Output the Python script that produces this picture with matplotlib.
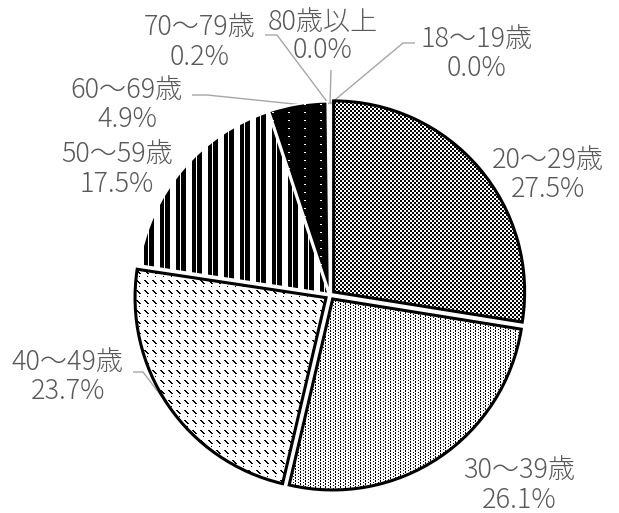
import numpy as np
import matplotlib
matplotlib.use("Agg")
import matplotlib.pyplot as plt

plt.rcParams['font.family'] = ['Noto Sans CJK JP', 'DejaVu Sans']

# data (clockwise from the top)
age_groups = ["18～19歳", "20～29歳", "30～39歳", "40～49歳",
              "50～59歳", "60～69歳", "70～79歳", "80歳以上"]
shares = [0.0, 27.5, 26.1, 23.7, 17.5, 4.9, 0.2, 0.0]

W, H = 619, 513
CX, CY, R = 330, 295, 191  # pie centre / radius in pixels
TEXT = "#595959"
LEAD = "#a6a6a6"

fig = plt.figure(figsize=(W / 100, H / 100), dpi=100)
ax = fig.add_axes([0, 0, 1, 1])


def px(x, y):  # pixel coords (top-left origin) -> data coords
    return (x - CX) / R, (CY - y) / R


explode = [0, 0.025, 0.025, 0.025, 0.012, 0.012, 0, 0]
wedges, _ = ax.pie(shares, startangle=90, counterclock=False,
                   explode=explode, radius=1)

# fill textures, one pixel per figure pixel
yy, xx = np.mgrid[0:H, 0:W]
diag = yy % 10
patterns = {
    1: (xx // 2 + yy // 2) % 2 == 0,
    2: ((xx % 5 == 0) & (yy % 3 != 2)) | ((xx % 5 == 3) & ((yy + 1) % 3 == 0)),
    3: ((diag < 4) & ((xx - diag) % 8 < 2)) | ((diag == 6) & (xx % 8 == 3)),
    4: ~((xx % 16 == 4) | (xx % 16 >= 10)),
    5: ~((xx % 16 < 2) & (yy % 8 == 0)),
}
x0, y1 = px(0, 0)
x1, y0 = px(W, H)
for i, mask in patterns.items():
    im = ax.imshow(np.where(mask, 0.0, 1.0), cmap="gray", vmin=0, vmax=1,
                   extent=(x0, x1, y0, y1), interpolation="nearest", zorder=1)
    im.set_clip_path(wedges[i])

for i, w in enumerate(wedges):
    w.set_facecolor("none")
    w.set_zorder(3)
    if i in (1, 2, 3):
        w.set_edgecolor("black")
        w.set_linewidth(2.2)
    elif i in (4, 5):
        w.set_edgecolor("white")
        w.set_linewidth(1.2)
    else:
        w.set_linewidth(0)

# leader lines: bend points in pixels
leaders = {
    0: [(403, 43), (415, 43)],
    7: [(331, 70)],
    6: [(277, 35), (265, 35)],
    5: [(207, 95), (192, 95)],
    3: [(143, 372), (133, 372)],
}
for i, pts in leaders.items():
    w = wedges[i]
    ang = np.deg2rad((w.theta1 + w.theta2) / 2)
    ax_, ay_ = w.center[0] + np.cos(ang), w.center[1] + np.sin(ang)
    xs = [ax_] + [px(*p)[0] for p in pts]
    ys = [ay_] + [px(*p)[1] for p in pts]
    ax.plot(xs, ys, color=LEAD, lw=1.0, zorder=2, solid_capstyle="butt")

# label positions: centre x, name line y, percent line y (pixels)
label_pos = {
    0: (477, 39, 68),
    1: (548, 160, 189),
    2: (519, 470, 500),
    3: (68, 362, 391),
    4: (117, 154, 184),
    5: (127, 90, 119),
    6: (200, 27, 57),
    7: (323, 22, 50),
}
for i, (lx, ly1, ly2) in label_pos.items():
    ax.text(*px(lx, ly1), age_groups[i], ha="center", va="center",
            fontsize=19.5, fontweight="light", color=TEXT, zorder=4)
    ax.text(*px(lx, ly2), f"{shares[i]:.1f}%", ha="center", va="center",
            fontsize=19.5, fontweight="light", color=TEXT, zorder=4)

ax.set_xlim(x0, x1)
ax.set_ylim(y0, y1)
ax.set_aspect("equal")
ax.axis("off")

fig.savefig("out.png", dpi=100)
